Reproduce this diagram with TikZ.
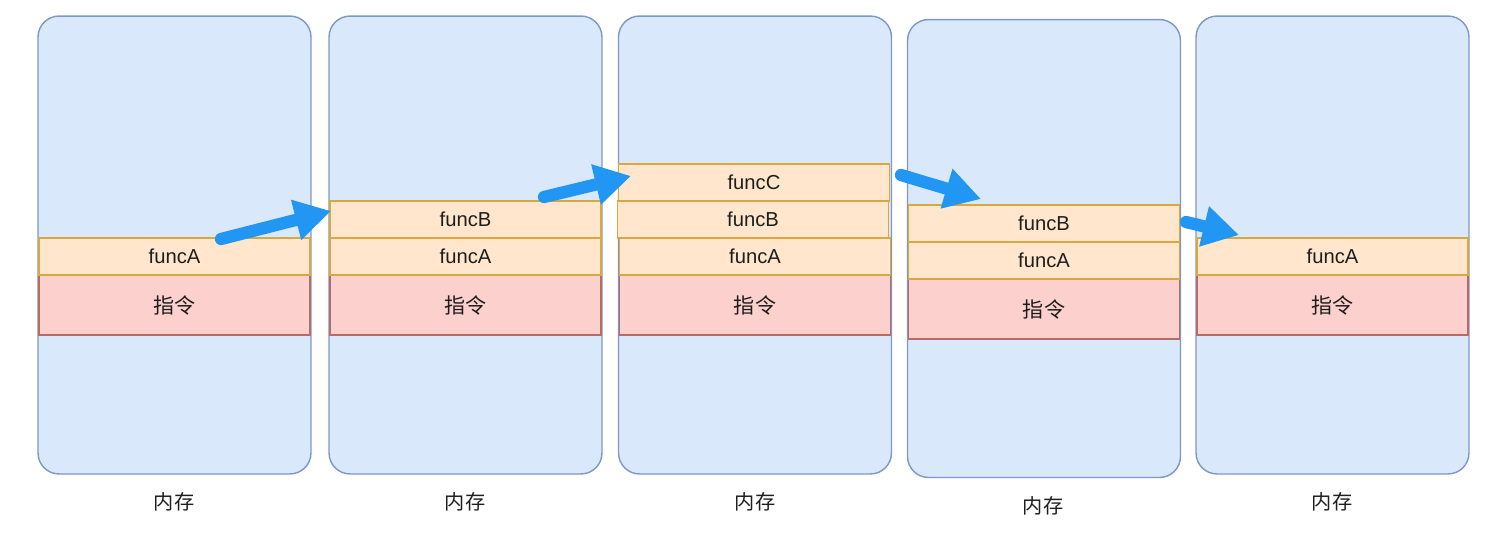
\documentclass[tikz,border=0pt]{standalone}
\usepackage{fontspec}
\setmainfont{Liberation Sans}
\newfontfamily\cjk{Noto Sans CJK SC}
\usetikzlibrary{arrows.meta,positioning}

\definecolor{memfill}{HTML}{DAE8FC}
\definecolor{memline}{HTML}{7C98C4}
\definecolor{funcfill}{HTML}{FFE6CC}
\definecolor{funcline}{HTML}{D8A93E}
\definecolor{insfill}{HTML}{FCD0CC}
\definecolor{insline}{HTML}{B86A64}
\definecolor{pushblue}{HTML}{2196F3}
\definecolor{txt}{HTML}{1E1E1E}

\begin{document}
\begin{tikzpicture}[x=0.02cm, y=-0.02cm]
  \useasboundingbox (0,0) rectangle (1500,538);
  \tikzset{
    mem/.style={draw=memline, fill=memfill, line width=0.8pt, rounded corners=0.42cm,
      minimum width=5.46cm, minimum height=9.16cm},
    frame/.style={draw=funcline, fill=funcfill, line width=0.8pt, outer sep=0pt,
      minimum width=5.42cm, minimum height=0.74cm, inner sep=0pt, text=txt,
      font=\fontsize{11.5}{13}\selectfont},
    instr/.style={draw=insline, fill=insfill, line width=0.8pt, outer sep=0pt,
      minimum width=5.42cm, minimum height=1.2cm, inner sep=0pt, text=txt,
      font=\fontsize{12}{14}\selectfont\cjk},
    caption/.style={text=txt, font=\fontsize{11.5}{13}\selectfont\cjk},
    push/.style={draw=pushblue, line width=7pt, line cap=round,
      -{Triangle[length=0.72cm, width=0.78cm, fill=pushblue]}}
  }

 % memory blocks
  \node[mem] (m1) at (174.5, 245) {};
  \node[mem] (m2) at (465.5, 245) {};
  \node[mem] (m3) at (755, 245) {};
  \node[mem] (m4) at (1044, 248.5) {};
  \node[mem] (m5) at (1332.5, 245) {};

  \node[caption] (c1) at (174, 502) {内存};
  \node[caption] (c2) at (465, 502) {内存};
  \node[caption] (c3) at (755, 502) {内存};
  \node[caption] (c4) at (1043, 506) {内存};
  \node[caption] (c5) at (1332, 502) {内存};

 % instructions
  \node[instr] (i1) at (174.5, 305) {指令};
  \node[instr] (i2) at (465.5, 305) {指令};
  \node[instr] (i3) at (755, 305) {指令};
  \node[instr] (i4) at (1044, 309) {指令};
  \node[instr] (i5) at (1332.5, 305) {指令};

 % stack frames
  \node[frame, above=0pt of i1] (a1) {funcA};

  \node[frame, above=0pt of i2] (a2) {funcA};
  \node[frame, above=0pt of a2] (b2) {funcB};

  \node[frame, above=0pt of i3] (a3) {funcA};
  \node[frame, above=0pt of a3, xshift=-0.04cm] (b3) {funcB};
  \node[frame, above=0pt of b3, xshift=0.02cm] (f3) {funcC};

  \node[frame, above=0pt of i4] (a4) {funcA};
  \node[frame, above=0pt of a4] (b4) {funcB};

  \node[frame, above=0pt of i5] (a5) {funcA};

 % calls and returns
  \coordinate (s1) at (221, 239);
  \coordinate (t1) at (331, 211);
  \coordinate (s2) at (544, 197);
  \coordinate (t2) at (631, 176);
  \coordinate (s3) at (901, 175);
  \coordinate (t3) at (981, 199);
  \coordinate (s4) at (1186, 222);
  \coordinate (t4) at (1239, 235);
  \draw[push] (s1) -- (t1);
  \draw[push] (s2) -- (t2);
  \draw[push] (s3) -- (t3);
  \draw[push] (s4) -- (t4);
\end{tikzpicture}
\end{document}
